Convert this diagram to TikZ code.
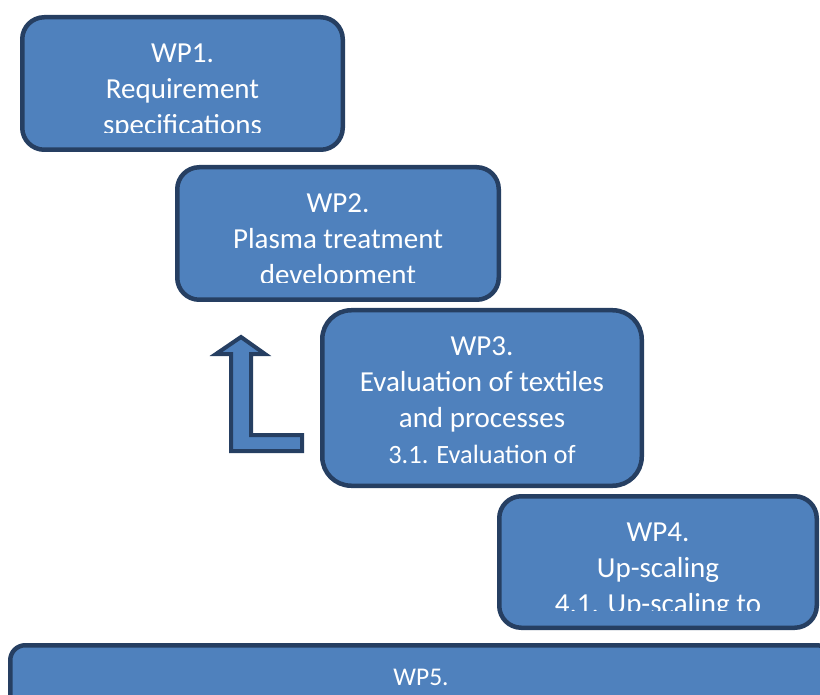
\documentclass[tikz,border=0pt]{standalone}
\usepackage{fontspec}
\setmainfont{Carlito}
\usetikzlibrary{positioning}
\definecolor{wpfill}{HTML}{4F81BD}
\definecolor{wpline}{HTML}{263F62}

\begin{document}
\begin{tikzpicture}[x=1pt,y=-1pt]
\tikzset{wpbox/.style={rectangle,draw=wpline,fill=wpfill,line width=4.5pt,outer sep=0pt,inner sep=0pt},
wptext/.style={text=white,align=center,inner sep=0pt,font=\fontsize{29}{36}\selectfont}}
\clip (0,0) rectangle (820,695);
% work packages
\node[wpbox,rounded corners=22pt,minimum width=320.5pt,minimum height=132.5pt](wp1) at (182.5,83.5){};
\begin{scope}
\clip (wp1.north west) rectangle ([yshift=17pt]wp1.south east);
\node[wptext,below=26pt of wp1.north](t1){WP1.\\Requirement\\specifications};
\end{scope}
\node[wpbox,rounded corners=22pt,minimum width=321.5pt,minimum height=132.5pt](wp2) at (338,233.5){};
\begin{scope}
\clip (wp2.north west) rectangle ([yshift=17pt]wp2.south east);
\node[wptext,below=26pt of wp2.north](t2){WP2.\\Plasma treatment\\development};
\end{scope}
\node[wpbox,rounded corners=29pt,minimum width=319.5pt,minimum height=175.5pt](wp3) at (482,398){};
\begin{scope}
\clip (wp3.north west) rectangle ([yshift=17pt]wp3.south east);
\node[wptext,below=26pt of wp3.north](t3){WP3.\\Evaluation of textiles\\and processes\\{\fontsize{26.4}{32}\selectfont 3.1. Evaluation of}};
\end{scope}
\node[wpbox,rounded corners=22pt,minimum width=317.5pt,minimum height=131.5pt](wp4) at (658,562){};
\begin{scope}
\clip (wp4.north west) rectangle ([yshift=17pt]wp4.south east);
\node[wptext,below=26pt of wp4.north](t4){WP4.\\Up-scaling\\4.1. Up-scaling to};
\end{scope}
\node[wpbox,rounded corners=15pt,minimum width=821.5pt,minimum height=112.5pt](wp5) at (421,701.5){};
\node[wptext,font=\fontsize{25.5}{31}\selectfont,below=23.4pt of wp5.north](t5){WP5.};
% bent arrow
\draw[draw=wpline,fill=wpfill,line width=4pt,line join=miter] (241,337) -- (265,354) -- (251,354) -- (251,435) -- (302,435) -- (302,451) -- (231,451) -- (231,354) -- (216,354) -- cycle;
\end{tikzpicture}
\end{document}
